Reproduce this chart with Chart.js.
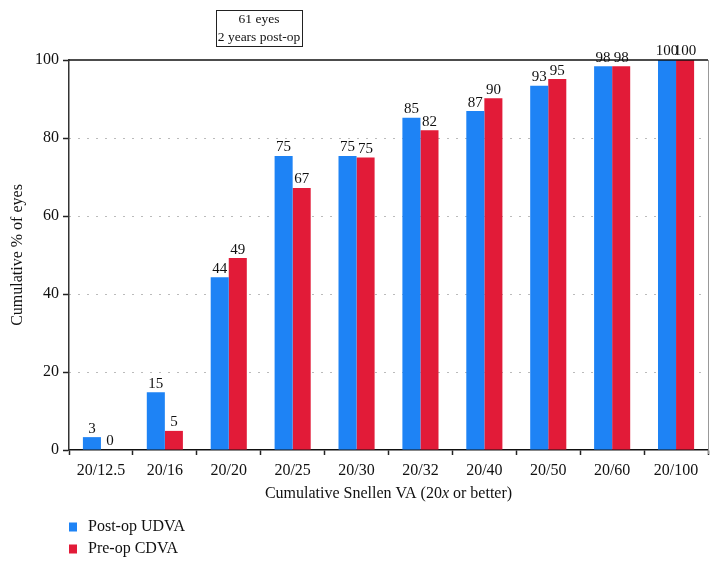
<!DOCTYPE html>
<html>
<head>
<meta charset="utf-8">
<script src="https://cdn.jsdelivr.net/npm/chart.js@4"></script>
<style>
  html, body { margin: 0; padding: 0; background: #fff; }
  #wrap { width: 719px; height: 567px; }
</style>
</head>
<body>
<div id="wrap"><canvas id="barChart" width="719" height="567"></canvas></div>
<script>
const categories = ['20/12.5', '20/16', '20/20', '20/25', '20/30', '20/32', '20/40', '20/50', '20/60', '20/100'];
const postOpUDVA = [3.3, 14.8, 44.3, 75.4, 75.4, 85.2, 86.9, 93.4, 98.4, 100];
const preOpCDVA = [0, 4.9, 49.2, 67.2, 75.0, 82.0, 90.2, 95.1, 98.4, 100];
const yTicks = [0, 20, 40, 60, 80, 100];
const boxLines = ['61 eyes', '2 years post-op'];

const SERIF = "'Liberation Serif', 'DejaVu Serif', serif";
const BLUE = '#1e83f5';
const RED = '#e21b38';

// value labels, frame, title box, x title and legend
const decorations = {
  id: 'decorations',
  afterDatasetsDraw(chart) {
    const ctx = chart.ctx;
    const area = chart.chartArea;
    ctx.save();
    ctx.font = '15px ' + SERIF;
    ctx.fillStyle = '#111';
    ctx.textAlign = 'center';
    ctx.textBaseline = 'bottom';
    chart.data.datasets.forEach((ds, i) => {
      chart.getDatasetMeta(i).data.forEach((bar, j) => {
        ctx.fillText(String(Math.round(ds.data[j])), bar.x, bar.y - 1);
      });
    });

    // top line and right edge
    ctx.strokeStyle = '#111';
    ctx.lineWidth = 1.5;
    ctx.beginPath();
    ctx.moveTo(area.left, area.top);
    ctx.lineTo(area.right, area.top);
    ctx.stroke();
    ctx.strokeStyle = '#999';
    ctx.lineWidth = 1;
    ctx.beginPath();
    ctx.moveTo(area.right + 0.5, area.top);
    ctx.lineTo(area.right + 0.5, area.bottom + 4);
    ctx.stroke();

    // title box
    ctx.font = '13.5px ' + SERIF;
    const w = Math.max(...boxLines.map(t => ctx.measureText(t).width)) + 4;
    const cx = 259;
    ctx.strokeStyle = '#222';
    ctx.lineWidth = 1;
    ctx.strokeRect(Math.round(cx - w / 2) + 0.5, 10.5, Math.round(w), 36);
    ctx.textBaseline = 'middle';
    ctx.fillText(boxLines[0], cx, 19);
    ctx.fillText(boxLines[1], cx, 37);

    // x axis title with italic x
    const y = 494;
    const parts = [
      ['Cumulative Snellen VA (20', ''],
      ['x', 'italic '],
      [' or better)', '']
    ];
    let total = 0;
    parts.forEach(p => { ctx.font = p[1] + '16px ' + SERIF; total += ctx.measureText(p[0]).width; });
    let x = (area.left + area.right) / 2 - total / 2;
    ctx.textAlign = 'left';
    parts.forEach(p => {
      ctx.font = p[1] + '16px ' + SERIF;
      ctx.fillText(p[0], x, y);
      x += ctx.measureText(p[0]).width;
    });

    // legend
    ctx.font = '16px ' + SERIF;
    chart.data.datasets.forEach((ds, i) => {
      const ly = 527 + i * 22;
      ctx.fillStyle = ds.backgroundColor;
      ctx.fillRect(69, ly - 4.5, 8, 9);
      ctx.fillStyle = '#111';
      ctx.fillText(ds.label, 88, ly);
    });
    ctx.restore();
  }
};

new Chart(document.getElementById('barChart').getContext('2d'), {
  type: 'bar',
  data: {
    labels: categories,
    datasets: [
      {
        label: 'Post-op UDVA',
        data: postOpUDVA,
        backgroundColor: BLUE,
        categoryPercentage: 0.565,
        barPercentage: 1,
      },
      {
        label: 'Pre-op CDVA',
        data: preOpCDVA,
        backgroundColor: RED,
        categoryPercentage: 0.565,
        barPercentage: 1,
      },
    ],
  },
  options: {
    responsive: false,
    animation: false,
    layout: { padding: { top: 60, right: 11, bottom: 0, left: 0 } },
    plugins: {
      legend: { display: false },
      tooltip: { enabled: false },
    },
    scales: {
      x: {
        afterFit: (s) => { s.height = 117; },
        grid: {
          offset: true,
          drawOnChartArea: false,
          tickLength: 5,
          tickColor: '#222',
          tickWidth: 1.5,
        },
        border: { color: '#111', width: 1.5 },
        ticks: {
          color: '#111',
          padding: 6,
          font: { family: SERIF, size: 16 },
        },
      },
      y: {
        min: 0,
        max: 100,
        afterFit: (s) => { s.width = 69; },
        afterBuildTicks: (s) => { s.ticks = yTicks.map(v => ({ value: v })); },
        grid: {
          color: (c) => (c.tick && (c.tick.value === 0 || c.tick.value === 100)) ? 'rgba(0,0,0,0)' : '#777',
          lineWidth: 1,
          tickLength: 6,
          tickColor: '#222',
          tickWidth: 1.5,
        },
        border: { color: '#333', width: 1.5, dash: [1, 8] },
        ticks: {
          color: '#111',
          padding: 4,
          font: { family: SERIF, size: 16 },
        },
        title: {
          display: true,
          text: 'Cumulative % of eyes',
          color: '#111',
          font: { family: SERIF, size: 16 },
          padding: { top: 8, bottom: 0 },
        },
      },
    },
  },
  plugins: [decorations],
});
</script>
</body>
</html>
